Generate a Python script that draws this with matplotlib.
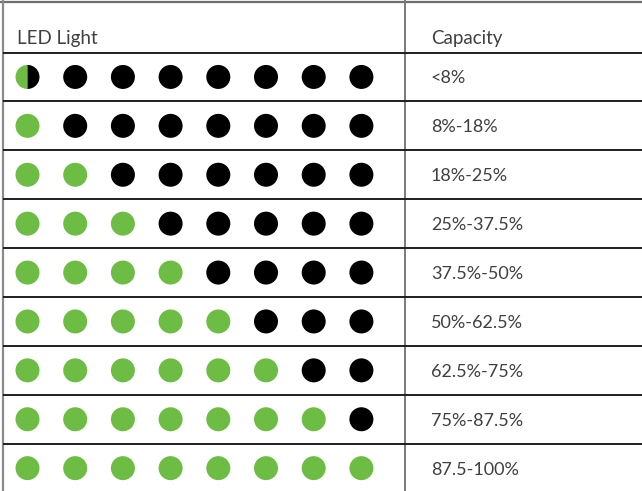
import matplotlib
matplotlib.use("Agg")
import matplotlib.pyplot as plt
from matplotlib.patches import Circle, Wedge

# Data
header_left = "LED Light"
header_right = "Capacity"
capacity_labels = ["<8%", "8%-18%", "18%-25%", "25%-37.5%", "37.5%-50%",
                   "50%-62.5%", "62.5%-75%", "75%-87.5%", "87.5-100%"]
lit_leds = [0.5, 1, 2, 3, 4, 5, 6, 7, 8]
n_leds = 8

GREEN = "#6dbd45"
BLACK = "#000000"
TEXT = "#404040"

W, H = 642, 491
fig = plt.figure(figsize=(W / 100, H / 100), dpi=100)
ax = fig.add_axes([0, 0, 1, 1])
ax.set_xlim(0, W)
ax.set_ylim(H, 0)
ax.set_aspect("equal")
ax.axis("off")

font = "Lato"
row_top = 52.5
row_h = 48.9
x0, dx, r = 27.5, 47.7, 12
x_div = 404.5

# borders
ax.plot([0, W], [2, 2], color="#6e6e6e", lw=1.6, solid_capstyle="butt")
ax.plot([3, 3], [0, H], color="#8a8a8a", lw=1.6, solid_capstyle="butt")
ax.plot([x_div, x_div], [0, H], color="#7a7a7a", lw=1.4, solid_capstyle="butt")
for i in range(len(capacity_labels)):
    y = row_top + row_h * i
    ax.plot([3, W], [y, y], color="#1e1e1e", lw=1.4, solid_capstyle="butt")

ax.text(17, 43.5, header_left, fontsize=13.5, family=font,
        color=TEXT, va="baseline", ha="left")
ax.text(431, 43.5, header_right, fontsize=13.5, family=font,
        color=TEXT, va="baseline", ha="left")

for i, (lab, lit) in enumerate(zip(capacity_labels, lit_leds)):
    cy = row_top + row_h * (i + 0.5)
    for j in range(n_leds):
        cx = x0 + dx * j
        if lit >= j + 1:
            ax.add_patch(Circle((cx, cy), r, color=GREEN, lw=0))
        elif lit > j:
            ax.add_patch(Wedge((cx, cy), r, 90, 270, color=GREEN, lw=0))
            ax.add_patch(Wedge((cx, cy), r, 270, 90, color=BLACK, lw=0))
        else:
            ax.add_patch(Circle((cx, cy), r, color=BLACK, lw=0))
    ax.text(431, cy + 6.5, lab, fontsize=13, family=font,
            color=TEXT, va="baseline", ha="left")

fig.savefig("out.png", dpi=100)
